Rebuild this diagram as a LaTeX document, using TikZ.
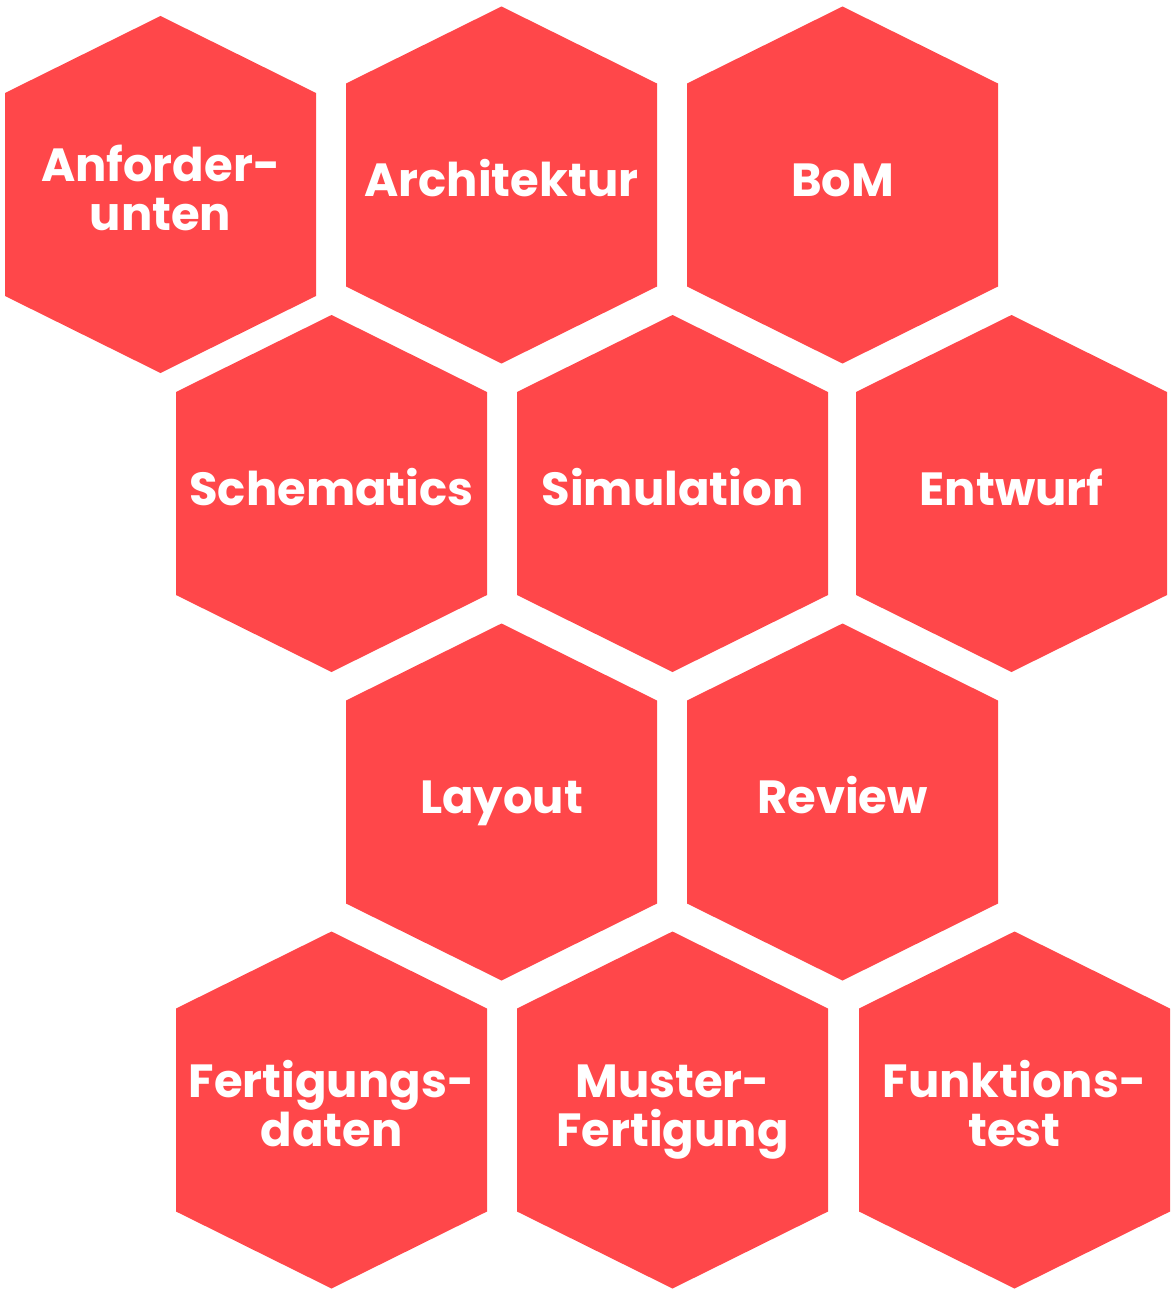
\documentclass[tikz,border=0pt]{standalone}
\usepackage{fontspec}
\setmainfont{Poppins}
\definecolor{hexred}{HTML}{FF474A}
\begin{document}
\begin{tikzpicture}[x=1pt,y=-1pt,
  hexlabel/.style={text=white,font=\fontsize{46.5}{49}\selectfont\bfseries,align=center,inner sep=0pt,anchor=base}]
\useasboundingbox (0,0) rectangle (1175,1295);
\newcommand{\hexshape}[2]{%
  \fill[hexred] (#1,#2) ++(0,-178.5) -- ++(155.5,77) -- ++(0,203) -- ++(-155.5,77) -- ++(-155.5,-77) -- ++(0,-203) -- cycle;}
\newcommand{\hexone}[4]{\hexshape{#1}{#2}%
  \node[hexlabel] (#3) at (#1,#2+11.5) {#4};}
\newcommand{\hextwo}[4]{\hexshape{#1}{#2}%
  \node[hexlabel] (#3) at (#1,#2+36) {#4};}
\hextwo{160.5}{194.5}{anf}{Anforder-\\unten}
\hexone{501.5}{185}{arch}{Architektur}
\hexone{842.5}{185}{bom}{BoM}
\hexone{331.5}{493.5}{sch}{Schematics}
\hexone{672.5}{493.5}{sim}{Simulation}
\hexone{1011.5}{493.5}{ent}{Entwurf}
\hexone{501.5}{802}{lay}{Layout}
\hexone{842.5}{802}{rev}{Review}
\hextwo{331.5}{1110}{fer}{Fertigungs-\\daten}
\hextwo{672.5}{1110}{mus}{Muster-\\Fertigung}
\hextwo{1014.5}{1110}{fun}{Funktions-\\test}
\end{tikzpicture}
\end{document}
